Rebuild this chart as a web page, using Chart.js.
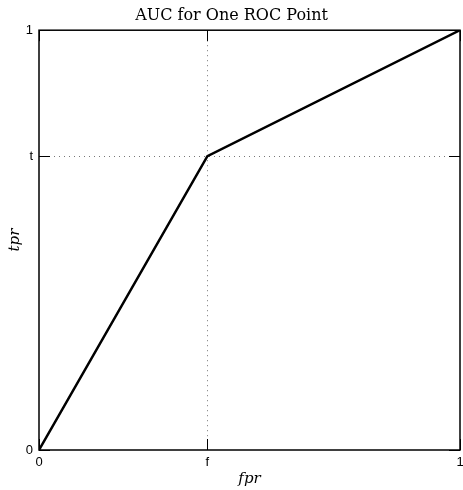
<!DOCTYPE html>
<html>
<head>
<meta charset="utf-8">
<script src="https://cdn.jsdelivr.net/npm/chart.js@4"></script>
<style>
  body { margin: 0; background: #fff; }
  #wrap { width: 463px; height: 490px; }
</style>
</head>
<body>
<div id="wrap"><canvas id="rocChart"></canvas></div>
<script>
/* data */
const fprPoints = [0, 0.4, 1];
const tprPoints = [0, 0.7, 1];
const xTickValues = [0, 0.4, 1];
const xTickLabels = ['0', 'f', '1'];
const yTickValues = [0, 0.7, 1];
const yTickLabels = ['0', 't', '1'];

const points = fprPoints.map((x, i) => ({ x: x, y: tprPoints[i] }));

const tickFont = { family: 'Liberation Sans', size: 13 };
const labelFont = { family: 'DejaVu Serif', size: 15, style: 'italic' };

// dotted grid only for the inner ticks (0 and 1 sit on the frame)
const gridColor = ctx => (ctx.tick && ctx.tick.value > 0 && ctx.tick.value < 1) ? '#777' : 'rgba(0,0,0,0)';

/* frame + inward ticks like matlab */
const framePlugin = {
  id: 'frame',
  afterDraw(chart) {
    const c = chart.ctx;
    const a = chart.chartArea;
    const xs = chart.scales.x;
    const ys = chart.scales.y;
    const len = 11;
    c.save();
    c.strokeStyle = '#000';
    c.lineWidth = 1;
    xs.ticks.forEach(t => {
      const px = Math.round(xs.getPixelForValue(t.value)) + 0.5;
      c.beginPath();
      c.moveTo(px, a.bottom); c.lineTo(px, a.bottom - len);
      c.moveTo(px, a.top); c.lineTo(px, a.top + len);
      c.stroke();
    });
    ys.ticks.forEach(t => {
      const py = Math.round(ys.getPixelForValue(t.value)) + 0.5;
      c.beginPath();
      c.moveTo(a.left, py); c.lineTo(a.left + len, py);
      c.moveTo(a.right, py); c.lineTo(a.right - len, py);
      c.stroke();
    });
    c.lineWidth = 1.5;
    c.strokeRect(a.left, a.top, a.right - a.left, a.bottom - a.top);
    c.restore();
  }
};

const ctx = document.getElementById('rocChart');
const rocChart = new Chart(ctx, {
  type: 'scatter',
  data: {
    datasets: [{
      label: 'ROC',
      data: points,
      showLine: true,
      borderColor: '#000',
      borderWidth: 2.5,
      pointRadius: 0,
      tension: 0
    }]
  },
  options: {
    responsive: true,
    maintainAspectRatio: false,
    animation: false,
    layout: { padding: { left: 0, right: 0, top: 0, bottom: 0 } },
    plugins: {
      legend: { display: false },
      tooltip: { enabled: false },
      title: {
        display: true,
        text: 'AUC for One ROC Point',
        color: '#000',
        font: { family: 'DejaVu Serif', size: 16, weight: 'normal' },
        padding: { top: 6, bottom: 5 }
      }
    },
    scales: {
      x: {
        type: 'linear',
        min: 0,
        max: 1,
        afterBuildTicks: scale => { scale.ticks = xTickValues.map(v => ({ value: v })); },
        afterFit: scale => {
          scale.height = 40;
          scale.paddingLeft = 0;
          scale.paddingRight = 3;
        },
        ticks: {
          color: '#000',
          font: tickFont,
          padding: 5,
          maxRotation: 0,
          callback: (value, index) => xTickLabels[index]
        },
        grid: { color: gridColor, drawTicks: false, lineWidth: 1 },
        border: { display: false, dash: [1, 4] },
        title: { display: true, text: 'fpr', color: '#000', font: labelFont, padding: { top: 0, bottom: 2 } }
      },
      y: {
        type: 'linear',
        min: 0,
        max: 1,
        afterBuildTicks: scale => { scale.ticks = yTickValues.map(v => ({ value: v })); },
        afterFit: scale => { scale.width = 39; },
        ticks: {
          color: '#000',
          font: tickFont,
          padding: 6,
          callback: (value, index) => yTickLabels[index]
        },
        grid: { color: gridColor, drawTicks: false, lineWidth: 1 },
        border: { display: false, dash: [1, 4] },
        title: { display: true, text: 'tpr', color: '#000', font: labelFont, padding: { top: 6, bottom: 0 } }
      }
    }
  },
  plugins: [framePlugin]
});
</script>
</body>
</html>
